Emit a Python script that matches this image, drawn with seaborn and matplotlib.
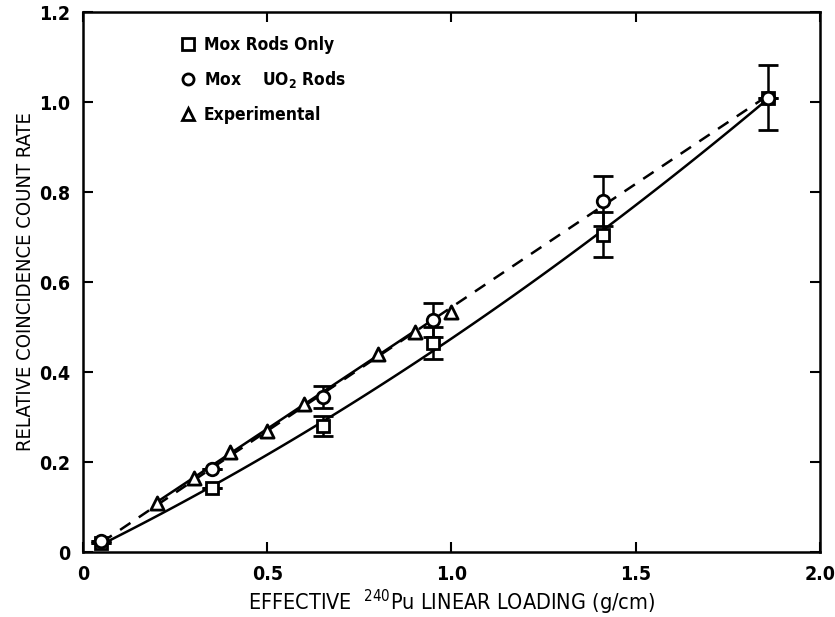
import matplotlib
matplotlib.use("Agg")
import matplotlib.pyplot as plt
import seaborn as sns
import numpy as np
import pandas as pd

# Data
mox_x = [0.05, 0.35, 0.65, 0.95, 1.41, 1.86]
mox_y = [0.02, 0.142, 0.28, 0.465, 0.705, 1.01]
mox_err = [0.0, 0.0, 0.022, 0.035, 0.05, 0.072]

uo2_x = [0.05, 0.35, 0.65, 0.95, 1.41, 1.86]
uo2_y = [0.025, 0.185, 0.345, 0.515, 0.78, 1.01]
uo2_err = [0.0, 0.0, 0.025, 0.038, 0.055, 0.0]

exp_x = [0.2, 0.3, 0.4, 0.5, 0.6, 0.8, 0.9, 1.0]
exp_y = [0.11, 0.165, 0.222, 0.27, 0.33, 0.44, 0.488, 0.533]

x_ticks = [0, 0.5, 1.0, 1.5, 2.0]
x_ticklabels = ["0", "0.5", "1.0", "1.5", "2.0"]
y_ticks = [0, 0.2, 0.4, 0.6, 0.8, 1.0, 1.2]
y_ticklabels = ["0", "0.2", "0.4", "0.6", "0.8", "1.0", "1.2"]

sns.set_style("ticks")
plt.rcParams['font.family'] = ['DejaVu Sans']
plt.rcParams['font.stretch'] = 'condensed'
plt.rcParams['mathtext.default'] = 'regular'
plt.rcParams['text.color'] = 'black'
plt.rcParams['axes.labelcolor'] = 'black'
plt.rcParams['xtick.color'] = 'black'
plt.rcParams['ytick.color'] = 'black'

fig = plt.figure(figsize=(8.35, 6.17), dpi=100)
ax = fig.add_axes([0.0994, 0.1053, 0.8826, 0.8752])

mox = pd.DataFrame({"x": mox_x, "y": mox_y})
uo2 = pd.DataFrame({"x": uo2_x, "y": uo2_y})
exp = pd.DataFrame({"x": exp_x, "y": exp_y})

# Curves
sns.regplot(data=mox, x="x", y="y", order=2, ci=None, scatter=False, truncate=True,
            ax=ax, line_kws=dict(color="black", lw=1.8, ls="-"))
sns.regplot(data=uo2, x="x", y="y", order=2, ci=None, scatter=False, truncate=True,
            ax=ax, line_kws=dict(color="black", lw=1.8, ls=(0, (5, 4))))
sns.regplot(data=exp[exp.x <= 0.9], x="x", y="y", order=1, ci=None, scatter=False, truncate=True,
            ax=ax, line_kws=dict(color="black", lw=1.8, ls="-"))

# Markers with error bars
ax.errorbar(mox_x, mox_y, yerr=mox_err, fmt="s", ms=9, mfc="white", mec="black", mew=2,
            ecolor="black", elinewidth=1.8, capsize=7, capthick=2.2, zorder=5)
ax.errorbar(uo2_x, uo2_y, yerr=uo2_err, fmt="o", ms=9, mfc="white", mec="black", mew=2,
            ecolor="black", elinewidth=1.8, capsize=7, capthick=2.2, zorder=5)
sns.scatterplot(data=exp, x="x", y="y", marker="^", s=90, facecolor="white",
                edgecolor="black", linewidth=2, ax=ax, zorder=6)

# Legend
from matplotlib.lines import Line2D
handles = [
    Line2D([], [], marker="s", ls="none", ms=8, mfc="white", mec="black", mew=2),
    Line2D([], [], marker="o", ls="none", ms=8, mfc="white", mec="black", mew=2),
    Line2D([], [], marker="^", ls="none", ms=8, mfc="white", mec="black", mew=2),
]
labels = ["Mox Rods Only", "Mox    UO$_2$ Rods", "Experimental"]
ax.legend(handles, labels, loc="upper left", bbox_to_anchor=(0.11, 0.985), frameon=False,
          handletextpad=0.4, labelspacing=0.9,
          prop=dict(size=12.5, weight="bold", stretch="condensed"),
          handlelength=1.0)

ax.set_xlim(0, 2.0)
ax.set_ylim(0, 1.2)
ax.set_xticks(x_ticks)
ax.set_xticklabels(x_ticklabels)
ax.set_yticks(y_ticks)
ax.set_yticklabels(y_ticklabels)
ax.tick_params(direction="in", length=7, width=1.5, top=True, right=True,
               labelsize=14, pad=9)
for lab in ax.get_xticklabels() + ax.get_yticklabels():
    lab.set_fontweight("bold")
    lab.set_fontstretch("condensed")
for s in ax.spines.values():
    s.set_linewidth(1.8)
    s.set_color("black")

ax.set_xlabel("EFFECTIVE  $^{240}$Pu LINEAR LOADING (g/cm)",
              fontsize=15.5, labelpad=3, fontstretch="condensed")
ax.set_ylabel("RELATIVE COINCIDENCE COUNT RATE", fontsize=14.5, labelpad=3,
              fontstretch="condensed")

fig.savefig("out.png", dpi=100)
